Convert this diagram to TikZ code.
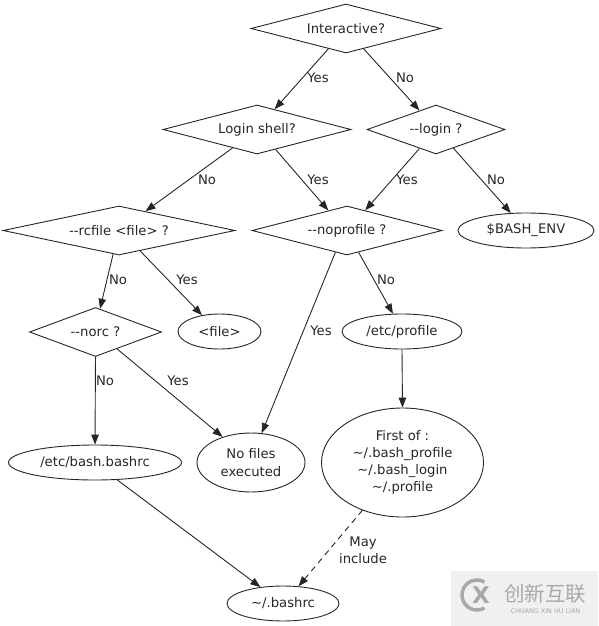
\documentclass[tikz,border=0pt]{standalone}
\usepackage{fontspec}
\setmainfont{DejaVu Sans}
\newfontfamily\cjkfont{Noto Sans CJK SC}
\usetikzlibrary{arrows.meta,shapes.geometric}
\newcommand{\tld}{\textasciitilde}
\definecolor{inkgray}{gray}{0.15}
\definecolor{markgray}{gray}{0.66}

\begin{document}
\begin{tikzpicture}[x=1pt, y=-1pt,
		every node/.style={font=\fontsize{13.2}{17.2}\selectfont, text=inkgray, align=center, inner sep=0pt},
		decision/.style={draw=inkgray, shape=diamond, aspect=4, line width=0.9pt, minimum height=49pt},
		state/.style={draw=inkgray, shape=ellipse, line width=0.9pt, minimum height=35pt},
		flow/.style={draw=inkgray, line width=0.9pt, -{Triangle[length=10pt,width=7.5pt]}},
	]

	\useasboundingbox (0,0) rectangle (598,626);

	% Decisions
	\node[decision, minimum width=190pt] (interactive) at (346,28.5) {Interactive?};
	\node[decision, minimum width=188pt] (loginshell) at (257,129.5) {Login shell?};
	\node[decision, minimum width=138pt] (loginopt) at (436,129.5) {-{}-login ?};
	\node[decision, minimum width=232pt] (rcfile) at (119,230.5) {-{}-rcfile <file> ?};
	\node[decision, minimum width=190pt] (noprofile) at (347,230.5) {-{}-noprofile ?};
	\node[decision, minimum width=132pt] (norc) at (95.5,332) {-{}-norc ?};

	% Ends
	\node[state, minimum width=136pt] (bashenv) at (526,230.5) {\$BASH\_ENV};
	\node[state, minimum width=83pt] (file) at (219.5,331.5) {<file>};
	\node[state, minimum width=120pt] (profile) at (402,331.5) {/etc/profile};
	\node[state, minimum width=173pt] (bashbashrc) at (95,462.5) {/etc/bash.bashrc};
	\node[state, minimum width=108pt, minimum height=59pt] (nofiles) at (251,462.5) {No files\\executed};
	\node[state, minimum width=162pt, minimum height=109pt] (firstof) at (402.5,462.5)
		{First of :\\\tld/.bash\_profile\\\tld/.bash\_login\\\tld/.profile};
	\node[state, minimum width=112pt] (bashrc) at (283,603.5) {\tld/.bashrc};

	% Connectors
	\draw[flow] (interactive.229) -- (loginshell.49);
	\draw[flow] (interactive.311) -- (loginopt.131);
	\draw[flow] (loginshell.217) -- (rcfile.36);
	\draw[flow] (loginshell.313) -- (noprofile.133);
	\draw[flow] (loginopt.229) -- (noprofile.48);
	\draw[flow] (loginopt.313) -- (bashenv.131);
	\draw[flow] (rcfile.256) -- (norc.79);
	\draw[flow] (rcfile.316) -- (file.137);
	\draw[flow] (norc.270) -- (bashbashrc.90);
	\draw[flow] (norc.322) -- (nofiles.138);
	\draw[flow] (noprofile.242) -- (nofiles.70);
	\draw[flow] (noprofile.298) -- (profile.117);
	\draw[flow] (profile.270) -- (firstof.90);
	\draw[flow] (bashbashrc.322) -- (bashrc.144);
	\draw[flow, dash pattern=on 6pt off 4.5pt] (firstof.230) -- (bashrc.48);

	% Connector labels
	\foreach \lx/\ly/\ltext/\lname in {
		318/78/Yes/lyesa, 405/78/No/lnoa,
		207/180/No/lnob, 318/180/Yes/lyesb, 407/180/Yes/lyesc, 496/180/No/lnoc,
		118/280/No/lnod, 187/280/Yes/lyesd, 386/280/No/lnoe,
		321/331/Yes/lyese, 105/381/No/lnof, 178/381/Yes/lyesf}
		\node (\lname) at (\lx,\ly) {\ltext};
	\node (lmay) at (363,550) {May\\include};

	% Watermark
	\fill[gray!12] (451,571) rectangle (598,626);
	\draw[markgray, line width=3.5pt] (484.5,608) arc (60:300:15);
	\node[text=markgray, font=\bfseries\fontsize{23}{23}\selectfont] (markx) at (481,595) {X};
	\node[text=markgray, font=\cjkfont\fontsize{20.5}{20.5}\selectfont] (markcn) at (545,594) {创新互联};
	\node[text=markgray, font=\fontsize{6.4}{7}\selectfont] (markpy) at (545.5,611) {CHUANG XIN HU LIAN};

\end{tikzpicture}
\end{document}
